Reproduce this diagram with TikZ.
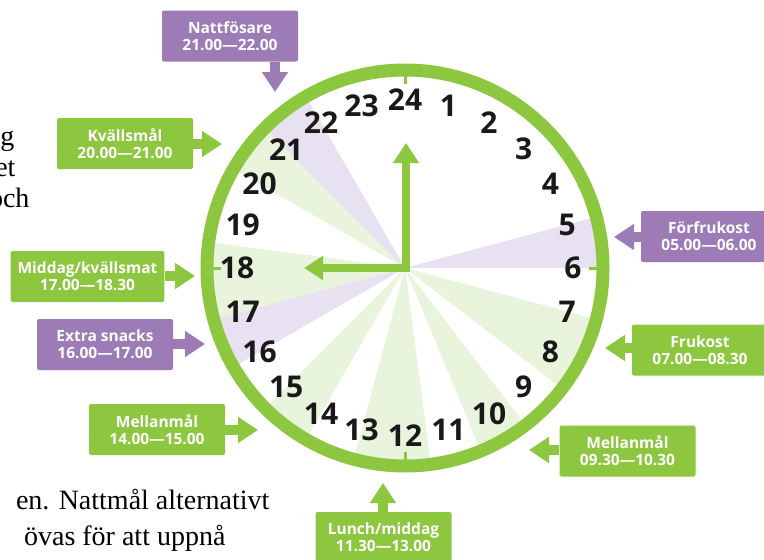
\documentclass[tikz,border=0pt]{standalone}
\usepackage{fontspec}
\setmainfont{Liberation Serif}
\newfontfamily\labelfont{Open Sans}
\usepackage{tikz}
\usetikzlibrary{arrows.meta,calc,positioning}
\definecolor{clockgreen}{RGB}{141,198,63}
\definecolor{mealpurple}{RGB}{157,123,183}
\definecolor{palegreen}{RGB}{233,244,221}
\definecolor{palepurple}{RGB}{231,225,241}

\begin{document}
\begin{tikzpicture}[x=1pt,y=-1pt,
    meal/.style={rectangle,rounded corners=2pt,minimum width=136pt,minimum height=51pt,
        inner xsep=7pt,align=center,text=white,font=\labelfont\bfseries\fontsize{15.5}{17}\selectfont},
    green meal/.style={meal,fill=clockgreen},
    purple meal/.style={meal,fill=mealpurple},
    pointer/.style={line width=10pt,-{Triangle[width=25pt,length=20pt]}},
    hour/.style={font=\labelfont\bfseries\fontsize{30}{30}\selectfont,text=black!90},
    body/.style={font=\fontsize{28}{33}\selectfont,anchor=base east}]
    \useasboundingbox (0,0) rectangle (764,560);
    \clip (0,0) rectangle (764,560);

    % clock face
    \coordinate (mid) at (405,268);
    \coordinate (hub) at (406,268);
    \foreach \from/\to/\col in {5/6/palepurple, 7/8.5/palegreen, 9.5/10.5/palegreen,
        11.5/13/palegreen, 14/15/palegreen, 16/17/palepurple, 17/18.5/palegreen,
        20/21/palegreen, 21/22/palepurple}
        \fill[\col] (mid) -- ++({15*\from-90}:192) arc[start angle={15*\from-90},end angle={15*\to-90},radius=192] -- cycle;
    \draw[clockgreen,line width=13pt] (mid) circle[radius=198];
    \foreach \h in {0,6,12,18}
        \draw[clockgreen,line width=3pt] ([shift={({15*\h-90}:184)}]mid) -- ([shift={({15*\h-90}:193)}]mid);
    \foreach \h in {1,...,24}
        \node[hour] (h\h) at ([shift={({15*\h-90}:168)}]mid) {\h};

    % hands
    \coordinate (tip-top) at (406,143);
    \coordinate (tip-left) at (304,268);
    \draw[clockgreen,line width=8.5pt,{Triangle[width=23pt,length=19pt]}-{Triangle[width=25pt,length=20pt]}]
        (tip-left) -- (hub) -- (tip-top);

    % meal boxes
    \node[purple meal] (natt) at (230,36) {Nattfösare\\21.00—22.00};
    \node[green meal] (kvall) at (125,143.5) {Kvällsmål\\20.00—21.00};
    \node[green meal] (middag) at (87.5,276.5) {Middag/kvällsmat\\17.00—18.30};
    \node[purple meal] (extra) at (105,344.5) {Extra snacks\\16.00—17.00};
    \node[green meal] (mellan1) at (157,429.5) {Mellanmål\\14.00—15.00};
    \node[green meal] (lunch) at (383.5,537.5) {Lunch/middag\\11.30—13.00};
    \node[green meal] (mellan2) at (627.5,451) {Mellanmål\\09.30—10.30};
    \node[green meal] (frukost) at (700,350) {Frukost\\07.00—08.30};
    \node[purple meal] (forfr) at (709,236.5) {Förfrukost\\05.00—06.00};

    % pointers
    \coordinate (t-natt) at (275,92);
    \coordinate (t-kvall) at (222,144);
    \coordinate (t-middag) at (195,276);
    \coordinate (t-extra) at (205,344);
    \coordinate (t-mellan1) at (258,430);
    \coordinate (t-lunch) at (383,483);
    \coordinate (t-mellan2) at (529,450);
    \coordinate (t-frukost) at (605,348);
    \coordinate (t-forfr) at (614,237);
    \draw[pointer,mealpurple] (natt.south -| t-natt) -- (t-natt);
    \draw[pointer,clockgreen] (kvall.east |- t-kvall) -- (t-kvall);
    \draw[pointer,clockgreen] (middag.east |- t-middag) -- (t-middag);
    \draw[pointer,mealpurple] (extra.east |- t-extra) -- (t-extra);
    \draw[pointer,clockgreen] (mellan1.east |- t-mellan1) -- (t-mellan1);
    \draw[pointer,clockgreen] (lunch.north -| t-lunch) -- (t-lunch);
    \draw[pointer,clockgreen] (mellan2.west |- t-mellan2) -- (t-mellan2);
    \draw[pointer,clockgreen] (frukost.west |- t-frukost) -- (t-frukost);
    \draw[pointer,mealpurple] (forfr.west |- t-forfr) -- (t-forfr);

    % surrounding page text
    \node[body] (txt1) at (18,145) {g};
    \node[body] (txt2) at (19,176) {et};
    \node[body] (txt3) at (33,207) {och};
    \node[body] (txt4) at (273,509) {en. Nattmål alternativt};
    \node[body] (txt5) at (229,545) {övas för att uppnå};
\end{tikzpicture}
\end{document}
